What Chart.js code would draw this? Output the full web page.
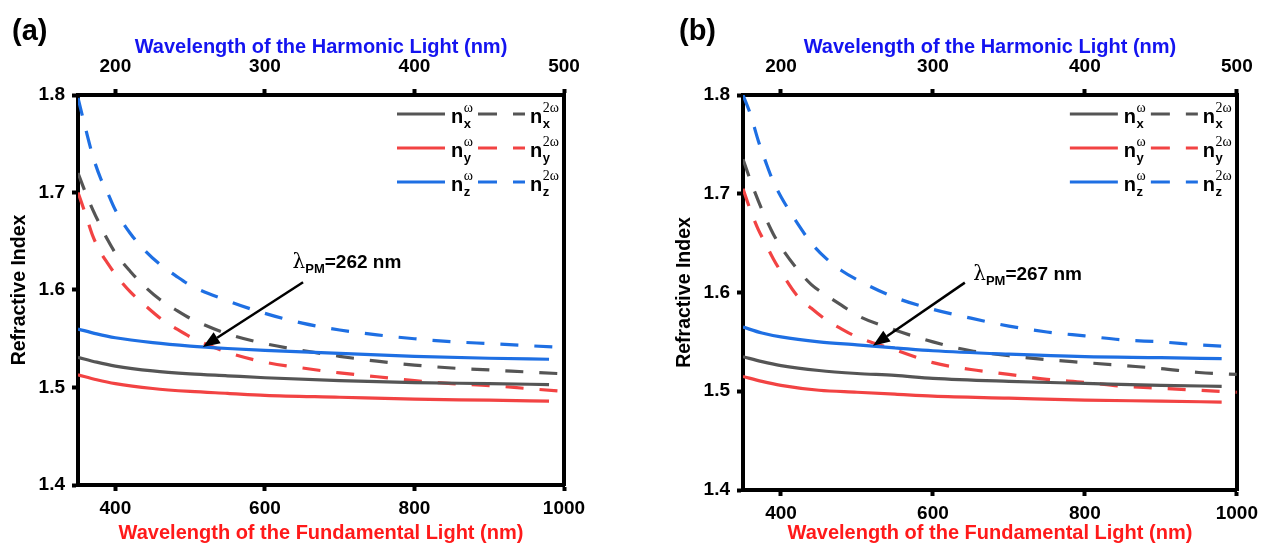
<!DOCTYPE html>
<html>
<head>
<meta charset="utf-8">
<script src="https://cdn.jsdelivr.net/npm/chart.js@4.4.1/dist/chart.umd.min.js"></script>
<style>
  body { margin: 0; background: #fff; width: 1264px; height: 546px; overflow: hidden; position: relative; font-family: "Liberation Sans", Arial, sans-serif; }
  canvas { position: absolute; top: 0; }
  .tag { position: absolute; font-weight: bold; font-size: 29px; color: #000; line-height: 1; }
</style>
</head>
<body>
<canvas id="chartA" width="632" height="546" style="left:0"></canvas>
<canvas id="chartB" width="599" height="546" style="left:665px"></canvas>
<div class="tag" style="left:12px;top:16px">(a)</div>
<div class="tag" style="left:679px;top:16px">(b)</div>
<script>
// wavelengths of the fundamental light (nm)
const wlSolid = [350, 375, 400, 450, 500, 550, 600, 700, 800, 900, 980];
const wlDash = [350, 360, 370, 380, 390, 400, 420, 440, 460, 480, 500, 550, 600, 650, 700, 750, 800, 850, 900, 950, 1000];

// panel (a)
const nxA = [1.531, 1.526, 1.522, 1.517, 1.514, 1.512, 1.510, 1.507, 1.505, 1.504, 1.503];
const nyA = [1.513, 1.508, 1.504, 1.499, 1.496, 1.494, 1.492, 1.490, 1.488, 1.487, 1.486];
const nzA = [1.560, 1.555, 1.551, 1.546, 1.5425, 1.540, 1.538, 1.535, 1.532, 1.530, 1.529];
const nx2A = [1.720, 1.700, 1.682, 1.666, 1.651, 1.638, 1.619, 1.603, 1.590, 1.580, 1.571, 1.555, 1.545, 1.538, 1.532, 1.527, 1.523, 1.520, 1.518, 1.516, 1.514];
const ny2A = [1.700, 1.678, 1.655, 1.639, 1.627, 1.616, 1.598, 1.584, 1.571, 1.561, 1.552, 1.536, 1.526, 1.520, 1.515, 1.511, 1.507, 1.504, 1.502, 1.499, 1.496];
const nz2A = [1.797, 1.766, 1.737, 1.715, 1.699, 1.682, 1.658, 1.640, 1.626, 1.615, 1.605, 1.589, 1.576, 1.566, 1.559, 1.554, 1.550, 1.547, 1.545, 1.543, 1.541];

// panel (b)
const nxB = [1.535, 1.530, 1.526, 1.521, 1.518, 1.516, 1.513, 1.510, 1.508, 1.506, 1.505];
const nyB = [1.515, 1.510, 1.506, 1.501, 1.499, 1.497, 1.495, 1.493, 1.491, 1.490, 1.489];
const nzB = [1.565, 1.559, 1.555, 1.550, 1.547, 1.544, 1.541, 1.5375, 1.535, 1.534, 1.533];
const nx2B = [1.735, 1.713, 1.693, 1.675, 1.659, 1.646, 1.625, 1.608, 1.597, 1.587, 1.577, 1.562, 1.550, 1.541, 1.536, 1.532, 1.529, 1.526, 1.523, 1.519, 1.517];
const ny2B = [1.705, 1.683, 1.664, 1.649, 1.634, 1.621, 1.598, 1.584, 1.572, 1.563, 1.555, 1.542, 1.529, 1.522, 1.517, 1.512, 1.509, 1.505, 1.503, 1.501, 1.499];
const nz2B = [1.800, 1.780, 1.754, 1.732, 1.712, 1.697, 1.672, 1.650, 1.634, 1.622, 1.613, 1.595, 1.583, 1.574, 1.566, 1.560, 1.556, 1.552, 1.550, 1.547, 1.545];

// ticks
const fundTicks = [400, 600, 800, 1000];
const harmTicks = [200, 300, 400, 500];
const yTicks = [1.4, 1.5, 1.6, 1.7, 1.8];

// phase matching arrow: [tail, head] and label anchor
const arrowA = [[651, 1.608], [517, 1.5415]];
const labelA = [637, 1.6225];
const arrowB = [[642, 1.610], [521, 1.546]];
const labelB = [653, 1.6122];

const colGray = '#555555';
const colRed = '#F24343';
const colBlue = '#1E6FE3';
const fontFam = '"Liberation Sans", Arial, sans-serif';
const tickFont = { family: fontFam, size: 19, weight: 'bold' };
const titleFont = { family: fontFam, size: 20, weight: 'bold' };

function pts(xs, ys) {
    return xs.map((x, i) => ({ x: x, y: ys[i] }));
}

function series(xs, ys, color, dashed) {
    return {
        data: pts(xs, ys),
        borderColor: color,
        borderWidth: 3.2,
        borderDash: dashed ? [18, 16] : [],
        pointRadius: 0,
        cubicInterpolationMode: 'monotone',
        fill: false
    };
}

function drawN(ctx, x, y, sub, sup) {
    ctx.fillStyle = '#000';
    ctx.font = 'bold 20px ' + fontFam;
    ctx.fillText('n', x, y + 9);
    const w = ctx.measureText('n').width;
    ctx.font = 'bold 13px ' + fontFam;
    ctx.fillText(sub, x + w + 0.5, y + 14);
    ctx.font = '14px "Liberation Serif", serif';
    ctx.fillText(sup, x + w + 0.5, y - 2);
}

const deco = {
    id: 'deco',
    afterDatasetsDraw(chart, args, o) {
        const ctx = chart.ctx, x = chart.scales.x, y = chart.scales.y, area = chart.chartArea;
        ctx.save();
        // arrow
        const x0 = x.getPixelForValue(o.arrow[0][0]), y0 = y.getPixelForValue(o.arrow[0][1]);
        const x1 = x.getPixelForValue(o.arrow[1][0]), y1 = y.getPixelForValue(o.arrow[1][1]);
        const ang = Math.atan2(y1 - y0, x1 - x0);
        const head = 17, half = 6.5;
        const bx = x1 - head * Math.cos(ang), by = y1 - head * Math.sin(ang);
        ctx.strokeStyle = '#000';
        ctx.lineWidth = 2.5;
        ctx.beginPath(); ctx.moveTo(x0, y0); ctx.lineTo(bx, by); ctx.stroke();
        ctx.fillStyle = '#000';
        ctx.beginPath();
        ctx.moveTo(x1, y1);
        ctx.lineTo(bx + half * Math.sin(ang), by - half * Math.cos(ang));
        ctx.lineTo(bx - half * Math.sin(ang), by + half * Math.cos(ang));
        ctx.closePath(); ctx.fill();

        // label
        let tx = x.getPixelForValue(o.label[0]);
        const ty = y.getPixelForValue(o.label[1]);
        ctx.textAlign = 'left';
        ctx.textBaseline = 'alphabetic';
        ctx.font = '20px "DejaVu Serif", serif';
        ctx.fillText('λ', tx, ty);
        tx += ctx.measureText('λ').width;
        ctx.font = 'bold 13px ' + fontFam;
        ctx.fillText('PM', tx, ty + 5);
        tx += ctx.measureText('PM').width;
        ctx.font = 'bold 19px ' + fontFam;
        ctx.fillText(o.text, tx, ty);

        // legend
        const rows = [['x', colGray], ['y', colRed], ['z', colBlue]];
        const R = area.right;
        rows.forEach((r, i) => {
            const ry = area.top + 19 + i * 34;
            ctx.strokeStyle = r[1];
            ctx.lineWidth = 3.2;
            ctx.setLineDash([]);
            ctx.beginPath(); ctx.moveTo(R - 167, ry); ctx.lineTo(R - 119, ry); ctx.stroke();
            drawN(ctx, R - 113, ry, r[0], 'ω');
            ctx.setLineDash([19, 16]);
            ctx.beginPath(); ctx.moveTo(R - 86, ry); ctx.lineTo(R - 39, ry); ctx.stroke();
            ctx.setLineDash([]);
            drawN(ctx, R - 34, ry, r[0], '2ω');
        });
        ctx.restore();
    }
};

function makeChart(id, sets, g) {
    const outTicks = { drawOnChartArea: false, drawTicks: true, tickLength: 6, tickWidth: 4, tickColor: '#000' };
    const border = { display: true, width: 4, color: '#000' };
    return new Chart(document.getElementById(id), {
        type: 'line',
        data: { datasets: sets },
        options: {
            responsive: false,
            animation: false,
            layout: { padding: { left: 0, right: g.padRight, top: 0, bottom: 0 } },
            plugins: { legend: { display: false }, tooltip: { enabled: false }, deco: g.deco },
            scales: {
                x: {
                    type: 'linear', position: 'bottom', min: 350, max: 1000,
                    afterBuildTicks: s => { s.ticks = fundTicks.map(v => ({ value: v })); },
                    ticks: { font: tickFont, color: '#000', padding: 6, maxRotation: 0, callback: v => String(v) },
                    grid: outTicks, border: border,
                    title: { display: true, text: 'Wavelength of the Fundamental Light (nm)', color: '#FF1A1A', font: titleFont, padding: { top: 0, bottom: 1 } },
                    afterFit: s => { s.height = g.bottomH; }
                },
                x2: {
                    type: 'linear', position: 'top', min: 175, max: 500,
                    afterBuildTicks: s => { s.ticks = harmTicks.map(v => ({ value: v })); },
                    ticks: { font: tickFont, color: '#000', padding: 11, maxRotation: 0, callback: v => String(v) },
                    grid: outTicks, border: border,
                    title: { display: true, text: 'Wavelength of the Harmonic Light (nm)', color: '#1414F0', font: titleFont, padding: { top: 35, bottom: 0 } },
                    afterFit: s => { s.height = 95; }
                },
                y: {
                    type: 'linear', position: 'left', min: 1.4, max: 1.8,
                    afterBuildTicks: s => { s.ticks = yTicks.map(v => ({ value: v })); },
                    ticks: { font: tickFont, color: '#000', padding: 7, callback: v => v.toFixed(1) },
                    grid: outTicks, border: border,
                    title: { display: true, text: 'Refractive Index', color: '#000', font: { family: fontFam, size: 19.5, weight: 'bold' }, padding: { top: 8, bottom: 0 } },
                    afterFit: s => { s.width = 78; }
                },
                y2: {
                    type: 'linear', position: 'right', min: 1.4, max: 1.8,
                    ticks: { display: false },
                    grid: { display: false },
                    border: border,
                    afterFit: s => { s.width = 0; }
                }
            }
        },
        plugins: [deco]
    });
}

makeChart('chartA', [
    series(wlSolid, nxA, colGray, false),
    series(wlSolid, nyA, colRed, false),
    series(wlSolid, nzA, colBlue, false),
    series(wlDash, nx2A, colGray, true),
    series(wlDash, ny2A, colRed, true),
    series(wlDash, nz2A, colBlue, true)
], { padRight: 68, bottomH: 61, deco: { arrow: arrowA, label: labelA, text: '=262 nm' } });

makeChart('chartB', [
    series(wlSolid, nxB, colGray, false),
    series(wlSolid, nyB, colRed, false),
    series(wlSolid, nzB, colBlue, false),
    series(wlDash, nx2B, colGray, true),
    series(wlDash, ny2B, colRed, true),
    series(wlDash, nz2B, colBlue, true)
], { padRight: 27, bottomH: 56, deco: { arrow: arrowB, label: labelB, text: '=267 nm' } });
</script>
</body>
</html>
